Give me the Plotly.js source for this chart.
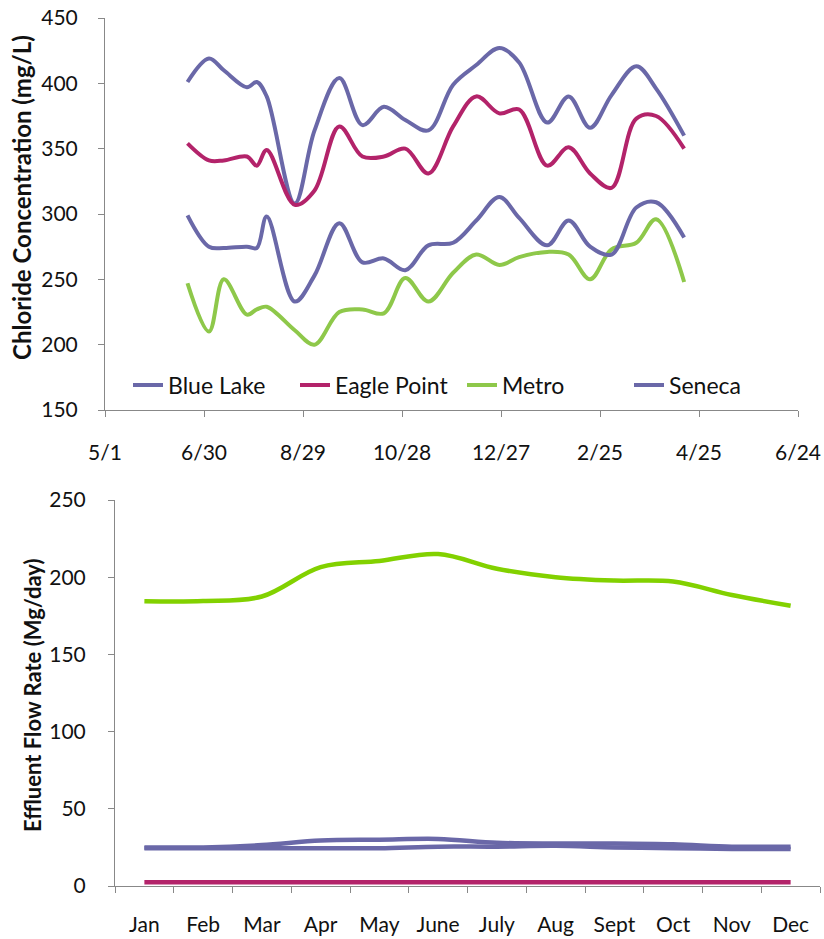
<!DOCTYPE html>
<html>
<head>
<meta charset="utf-8">
<script src="https://cdn.plot.ly/plotly-3.0.1.min.js"></script>
<style>
  html, body { margin: 0; padding: 0; background: #ffffff; }
  #chart { width: 824px; height: 939px; }
</style>
</head>
<body>
<div id="chart"></div>
<script>
// ---------- Top chart data: chloride concentration (mg/L) ----------
const sampleDates = ['2011-06-20','2011-07-03','2011-07-12','2011-07-26','2011-08-01','2011-08-07',
  '2011-08-24','2011-09-05','2011-09-20','2011-10-04','2011-10-17','2011-10-30','2011-11-13',
  '2011-11-28','2011-12-12','2011-12-26','2012-01-07','2012-01-24','2012-02-06','2012-02-19',
  '2012-03-03','2012-03-18','2012-03-30','2012-04-16'];
const blueLakeCl   = [401, 419, 410, 397, 401, 390, 308, 364, 404, 368, 382, 372, 364, 399, 414, 427, 416, 370, 390, 366, 391, 413, 396, 360];
const eaglePointCl = [354, 341, 341, 344, 337, 349, 307, 318, 367, 344, 344, 350, 331, 367, 390, 377, 380, 337, 351, 331, 320, 373, 375, 350];
const metroCl      = [247, 210, 250, 223, 227, 229, 211, 200, 225, 227, 224, 251, 233, 255, 269, 261, 267, 271, 269, 250, 273, 278, 296, 248];
const senecaCl     = [299, 275, 274, 275, 274, 298, 233, 253, 293, 263, 266, 257, 276, 278, 295, 313, 297, 276, 295, 275, 269, 305, 309, 282];
const seriesNames  = ['Blue Lake', 'Eagle Point', 'Metro', 'Seneca'];

// ---------- Bottom chart data: effluent flow rate (Mg/day) ----------
const months        = ['Jan','Feb','Mar','Apr','May','June','July','Aug','Sept','Oct','Nov','Dec'];
const blueLakeFlow  = [25, 25, 26.5, 29.5, 30, 30.5, 28, 27.5, 27.5, 27, 25.5, 25.5];
const eaglePointFlow= [2.5, 2.5, 2.5, 2.5, 2.5, 2.5, 2.5, 2.5, 2.5, 2.5, 2.5, 2.5];
const metroFlow     = [184.5, 184.6, 187.5, 206.5, 210.5, 215, 205.5, 200, 197.8, 197.2, 188.5, 181.5];
const senecaFlow    = [24.5, 24.5, 24.5, 24.5, 24.5, 25.5, 25.5, 26, 25, 24.5, 24, 24];

// ---------- Styles ----------
const PURPLE = '#6A68A8';
const RED = '#B3236A';
const GREEN_TOP = '#8EC84A';
const GREEN_BOT = '#82D100';
const FONT = 'Lato, "Open Sans", sans-serif';
const AXIS_GREY = '#888888';
const W = 824, H = 939;

function lineTrace(x, y, name, color, width, xa, ya, showlegend) {
  return {
    type: 'scatter', mode: 'lines', x: x, y: y, name: name,
    line: { color: color, width: width, shape: 'spline', smoothing: 1 },
    xaxis: xa, yaxis: ya, showlegend: showlegend, hoverinfo: 'skip'
  };
}

const traces = [
  lineTrace(sampleDates, blueLakeCl, seriesNames[0], PURPLE, 4, 'x', 'y', true),
  lineTrace(sampleDates, eaglePointCl, seriesNames[1], RED, 4, 'x', 'y', true),
  lineTrace(sampleDates, metroCl, seriesNames[2], GREEN_TOP, 4, 'x', 'y', true),
  lineTrace(sampleDates, senecaCl, seriesNames[3], PURPLE, 4, 'x', 'y', true),
  lineTrace(months, blueLakeFlow, seriesNames[0], PURPLE, 4.5, 'x2', 'y2', false),
  lineTrace(months, senecaFlow, seriesNames[3], PURPLE, 4.5, 'x2', 'y2', false),
  lineTrace(months, eaglePointFlow, seriesNames[1], RED, 4.5, 'x2', 'y2', false),
  lineTrace(months, metroFlow, seriesNames[2], GREEN_BOT, 4.5, 'x2', 'y2', false)
];

const axisCommon = {
  showline: true, linecolor: AXIS_GREY, linewidth: 1,
  ticks: 'outside', ticklen: 6, tickcolor: AXIS_GREY, tickwidth: 1,
  showgrid: false, zeroline: false,
  tickfont: { family: FONT, size: 21, color: '#111111' }
};

const layout = {
  width: W, height: H,
  margin: { l: 0, r: 0, t: 0, b: 0 },
  paper_bgcolor: '#ffffff', plot_bgcolor: '#ffffff',
  font: { family: FONT, color: '#111111' },
  xaxis: Object.assign({}, axisCommon, {
    type: 'date', domain: [105 / W, 798 / W], anchor: 'y',
    range: ['2011-05-01', '2012-06-24'],
    tick0: '2011-05-01', dtick: 60 * 86400000, tickformat: '%-m/%-d',
    ticklabelstandoff: 18
  }),
  yaxis: Object.assign({}, axisCommon, {
    domain: [1 - 410 / H, 1 - 18 / H], anchor: 'x',
    range: [150, 450], dtick: 50, ticklabelstandoff: 16
  }),
  xaxis2: Object.assign({}, axisCommon, {
    type: 'category', domain: [115 / W, 820 / W], anchor: 'y2',
    categoryorder: 'array', categoryarray: months,
    range: [-0.5, 11.5], tickson: 'boundaries',
    ticklabelstandoff: 20
  }),
  yaxis2: Object.assign({}, axisCommon, {
    domain: [1 - 886 / H, 1 - 500 / H], anchor: 'x2',
    range: [0, 250], dtick: 50, ticklabelstandoff: 18
  }),
  showlegend: true,
  legend: {
    orientation: 'h', x: 128 / W, xanchor: 'left', y: 1 - 385 / H, yanchor: 'middle',
    font: { family: FONT, size: 23, color: '#111111' },
    bgcolor: 'rgba(0,0,0,0)', itemwidth: 30, tracegroupgap: 0,
    entrywidth: 122, entrywidthmode: 'pixels'
  },
  annotations: [
    {
      text: '<b>Chloride Concentration (mg/L)</b>', textangle: -90,
      xref: 'paper', yref: 'paper', x: 22 / W, y: 1 - 198 / H,
      xanchor: 'center', yanchor: 'middle', showarrow: false,
      font: { family: FONT, size: 24, color: '#111111' }
    },
    {
      text: '<b>Effluent Flow Rate (Mg/day)</b>', textangle: -90,
      xref: 'paper', yref: 'paper', x: 32 / W, y: 1 - 695 / H,
      xanchor: 'center', yanchor: 'middle', showarrow: false,
      font: { family: FONT, size: 22, color: '#111111' }
    }
  ]
};

Plotly.newPlot('chart', traces, layout, { staticPlot: true, displayModeBar: false });
</script>
</body>
</html>
